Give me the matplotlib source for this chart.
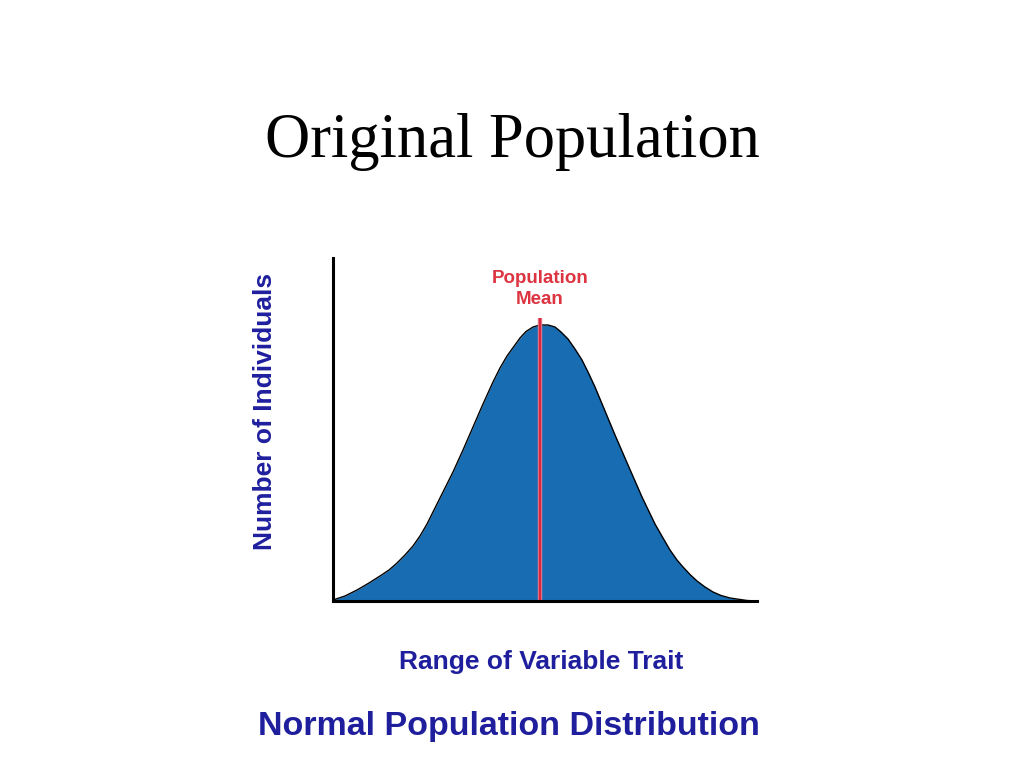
import matplotlib
matplotlib.use("Agg")
import matplotlib.pyplot as plt

# Curve (trait position, number of individuals)
trait = [0, 12, 24, 36, 47, 56, 64, 72, 80, 87, 94, 100, 107, 120, 130, 140, 150,
         160, 167, 174, 187, 193, 200, 207, 215, 222, 228, 235, 242, 249, 255,
         262, 272, 282, 295, 309, 322, 330, 337, 344, 350, 357, 364, 372, 380,
         388, 397, 414, 424]
individuals = [1, 5, 11, 18, 25, 31, 38, 46, 55, 65, 77, 89, 103, 129, 151, 174, 197,
               219, 233, 245, 263, 269.5, 274, 276, 276, 274, 269, 262, 252, 241, 229,
               214, 190, 166, 136, 104, 77, 63, 51, 41, 34, 26.5, 20, 14, 9,
               5.5, 3, 0.5, 0]
mean_trait = 207
mean_marker_top = 283

TITLE = "Original Population"
XLABEL = "Range of Variable Trait"
YLABEL = "Number of Individuals"
CAPTION = "Normal Population Distribution"
MEAN_LABEL = "Population\nMean"

FILL = "#176cb2"
NAVY = "#1f1f9e"
RED = "#d8283c"

fig = plt.figure(figsize=(10.24, 7.68), dpi=100)
ax = fig.add_axes([333 / 1024, 1 - 601 / 768, 424 / 1024, 343 / 768])

ax.fill_between(trait, individuals, 0, color=FILL, linewidth=0)
ax.plot(trait, individuals, color="black", linewidth=1.0)

# mean marker
ax.plot([mean_trait, mean_trait], [0, mean_marker_top], color="#e07a90",
        linewidth=3.2, solid_capstyle="butt")
ax.plot([mean_trait, mean_trait], [0, mean_marker_top], color=RED,
        linewidth=1.6, solid_capstyle="butt")
ax.text(mean_trait, 312, MEAN_LABEL, color="#dc3440", ha="center", va="center",
        fontsize=13.5, fontweight="bold", family="Liberation Sans", linespacing=1.3)

ax.set_xlim(0, 424)
ax.set_ylim(0, 343)
ax.set_xticks([])
ax.set_yticks([])
for side in ("top", "right"):
    ax.spines[side].set_visible(False)
for side in ("left", "bottom"):
    ax.spines[side].set_linewidth(2.2)
    ax.spines[side].set_color("black")

fig.text(0.5, 1 - 157 / 768, TITLE, ha="center", va="baseline",
         fontsize=45, family="Liberation Serif", color="black")
fig.text(541 / 1024, 1 - 662 / 768, XLABEL, ha="center", va="center",
         fontsize=19, fontweight="bold", family="Liberation Sans", color=NAVY)
fig.text(265 / 1024, 1 - 411 / 768, YLABEL, ha="center", va="center",
         rotation=90, fontsize=19, fontweight="bold", family="Liberation Sans",
         color=NAVY)
fig.text(509 / 1024, 1 - 727 / 768, CAPTION, ha="center", va="center",
         fontsize=24.5, fontweight="bold", family="Liberation Sans", color=NAVY)

fig.savefig("out.png", dpi=100)
